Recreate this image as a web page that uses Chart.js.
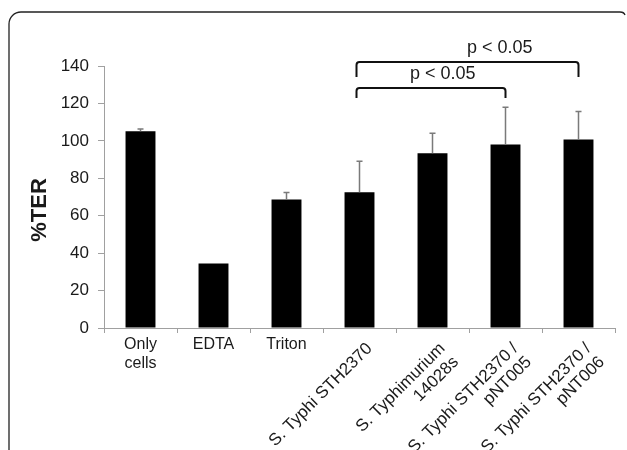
<!DOCTYPE html>
<html>
<head>
<meta charset="utf-8">
<script src="https://cdn.jsdelivr.net/npm/chart.js@4"></script>
<style>
  html, body { margin: 0; padding: 0; background: #fff; }
  #wrap { width: 627px; height: 450px; position: relative; }
</style>
</head>
<body>
<div id="wrap"><canvas id="chart"></canvas></div>
<script>
// data
const categories = [
    ['Only', 'cells'],
    'EDTA',
    'Triton',
    'S. Typhi STH2370',
    ['S. Typhimurium', '14028s'],
    ['S. Typhi STH2370 /', 'pNT005'],
    ['S. Typhi STH2370 /', 'pNT006']
]
const terMeans = [105.2, 34.4, 68.6, 72.5, 93.4, 98.0, 100.7]
const terErrors = [1.2, 0, 3.8, 16.6, 10.7, 20.0, 15.0]
const yTitle = '%TER'

// significance brackets (category index from / to, level in %TER)
const bracketFrom = [3, 3]
const bracketTo = [5, 6]
const bracketLevel = [128.2, 142.1]
const bracketLegEnd = [122.9, 134.1]
const bracketText = ['p < 0.05', 'p < 0.05']
const bracketTextX = [4.14, 4.92]
const bracketTextY = [135.7, 149.6]

const FONT = '"Liberation Sans", Arial, sans-serif'
const ctx = document.getElementById('chart')

const extras = {
    id: 'extras',
    beforeDraw(chart) {
        // rounded frame around the figure
        const c = chart.ctx
        c.save()
        c.strokeStyle = '#222'
        c.lineWidth = 1.3
        c.beginPath()
        c.moveTo(9, 450)
        c.lineTo(9, 24)
        c.arcTo(9, 12, 21, 12, 12)
        c.lineTo(620, 12)
        c.quadraticCurveTo(624, 12, 625, 15)
        c.stroke()
        c.restore()
    },
    afterDraw(chart) {
        const c = chart.ctx
        const x = chart.scales.x
        const y = chart.scales.y
        c.save()

        // error bars (upper only)
        c.strokeStyle = '#7a7a7a'
        c.lineWidth = 1.5
        terMeans.forEach((v, i) => {
            if (!terErrors[i]) return
            const px = x.getPixelForValue(i)
            const top = y.getPixelForValue(v + terErrors[i])
            c.beginPath()
            c.moveTo(px, y.getPixelForValue(v))
            c.lineTo(px, top)
            c.moveTo(px - 3, top)
            c.lineTo(px + 3, top)
            c.stroke()
        })

        // brackets
        c.strokeStyle = '#111'
        c.lineWidth = 2
        c.lineJoin = 'round'
        c.fillStyle = '#1a1a1a'
        c.font = '18px ' + FONT
        c.textAlign = 'center'
        c.textBaseline = 'middle'
        bracketFrom.forEach((from, k) => {
            const x1 = x.getPixelForValue(from) - 3
            const x2 = x.getPixelForValue(bracketTo[k])
            const yl = y.getPixelForValue(bracketLevel[k])
            const ye = y.getPixelForValue(bracketLegEnd[k])
            c.beginPath()
            c.moveTo(x1, ye)
            c.lineTo(x1, yl + 3)
            c.quadraticCurveTo(x1, yl, x1 + 3, yl)
            c.lineTo(x2 - 3, yl)
            c.quadraticCurveTo(x2, yl, x2, yl + 3)
            c.lineTo(x2, ye)
            c.stroke()
            c.fillText(bracketText[k], x.getPixelForValue(bracketTextX[k]), y.getPixelForValue(bracketTextY[k]))
        })

        // category labels: flat if they fit the slot, else tilted 45 degrees
        const slot = x.getPixelForValue(1) - x.getPixelForValue(0)
        categories.forEach((lab, i) => {
            const lines = Array.isArray(lab) ? lab : [lab]
            c.font = '16px ' + FONT
            const widest = Math.max(...lines.map(l => c.measureText(l).width))
            const px = x.getPixelForValue(i)
            if (widest < slot - 4) {
                c.textAlign = 'center'
                c.textBaseline = 'top'
                lines.forEach((l, j) => c.fillText(l, px, x.top + 9 + j * 19))
            } else {
                c.save()
                c.font = '17px ' + FONT
                c.translate(px + 4, x.top + 12)
                c.rotate(-Math.PI / 4)
                c.textAlign = 'right'
                c.textBaseline = 'top'
                lines.forEach((l, j) => c.fillText(l, 0, j * 19))
                c.restore()
            }
        })

        // y axis title
        c.translate(40, 210)
        c.rotate(-Math.PI / 2)
        c.font = 'bold 22px ' + FONT
        c.textAlign = 'center'
        c.textBaseline = 'middle'
        c.fillText(yTitle, 0, 0)
        c.restore()
    }
}

new Chart(ctx, {
    type: 'bar',
    data: {
        labels: categories,
        datasets: [{
            data: terMeans,
            backgroundColor: '#000',
            borderWidth: 0,
            barPercentage: 0.41,
            categoryPercentage: 1.0
        }]
    },
    options: {
        responsive: true,
        maintainAspectRatio: false,
        animation: false,
        layout: { padding: { top: 66, right: 12, bottom: 0, left: 0 } },
        plugins: { legend: { display: false }, tooltip: { enabled: false } },
        scales: {
            x: {
                offset: true,
                grid: { offset: true, drawOnChartArea: false, tickLength: 5, color: '#a0a0a0' },
                border: { color: '#a0a0a0', width: 1 },
                ticks: { display: false },
                afterFit: s => { s.height = 122 }
            },
            y: {
                min: 0,
                max: 140,
                ticks: { stepSize: 20, color: '#1a1a1a', padding: 9, font: { size: 17, family: FONT } },
                grid: { drawOnChartArea: false, tickLength: 6, color: '#a0a0a0' },
                border: { color: '#a0a0a0', width: 1 },
                afterFit: s => { s.width = 104 }
            }
        }
    },
    plugins: [extras]
});
</script>
</body>
</html>
